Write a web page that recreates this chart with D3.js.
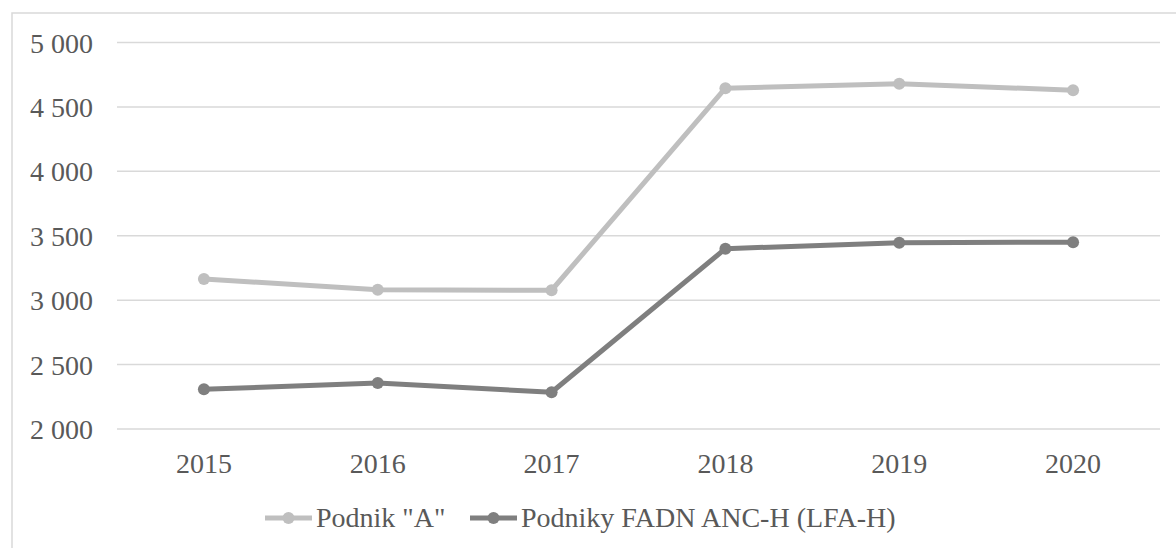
<!DOCTYPE html>
<html>
<head>
<meta charset="utf-8">
<script src="https://cdn.jsdelivr.net/npm/d3@7"></script>
</head>
<body style="margin:0">
<script>
// data
var years = ["2015", "2016", "2017", "2018", "2019", "2020"];
var podnikA = [3165, 3080, 3077, 4645, 4680, 4630];
var podnikyFadn = [2308, 2357, 2285, 3400, 3446, 3450];
var seriesNames = ['Podnik "A"', "Podniky FADN ANC-H (LFA-H)"];
var yTicks = [2000, 2500, 3000, 3500, 4000, 4500, 5000];

var width = 1176, height = 548;
var plot = { left: 117, right: 1160, top: 42.5, bottom: 429 };
var colors = ["#bfbfbf", "#7f7f7f"];
var textColor = "#595959";
var k = 0.875; // text drawn at 32px then scaled to 28px

var svg = d3.select("body").append("svg")
    .attr("width", width)
    .attr("height", height);

// outer chart frame (runs off the right / bottom edge)
svg.append("rect")
    .attr("x", 12).attr("y", 13)
    .attr("width", width + 20).attr("height", height + 20)
    .attr("fill", "none")
    .attr("stroke", "#d9d9d9")
    .attr("stroke-width", 1.5);

var xScale = d3.scaleBand().domain(years).range([plot.left, plot.right]);
var yScale = d3.scaleLinear().domain([2000, 5000]).range([plot.bottom, plot.top]);

var locale = d3.formatLocale({ decimal: ",", thousands: " ", grouping: [3], currency: ["", ""] });
var fmt = locale.format(",");

function label(x, y, anchor, str) {
    svg.append("g")
        .attr("transform", "translate(" + x + "," + y + ") scale(" + k + ")")
        .append("text")
        .attr("text-anchor", anchor)
        .style("font-family", "'Liberation Serif'")
        .style("font-size", "32px")
        .style("fill", textColor)
        .text(str);
}

// gridlines
svg.selectAll(".grid")
    .data(yTicks)
    .enter().append("line")
    .attr("x1", plot.left).attr("x2", plot.right)
    .attr("y1", function (d) { return yScale(d); })
    .attr("y2", function (d) { return yScale(d); })
    .attr("stroke", "#d9d9d9")
    .attr("stroke-width", 1.5);

// y labels
yTicks.forEach(function (d) {
    label(plot.left - 24, yScale(d) + 10, "end", fmt(d));
});

// x labels
years.forEach(function (d) {
    label(xScale(d) + xScale.bandwidth() / 2, plot.bottom + 44, "middle", d);
});

var line = d3.line()
    .x(function (d, i) { return xScale(years[i]) + xScale.bandwidth() / 2; })
    .y(function (d) { return yScale(d); });

[podnikA, podnikyFadn].forEach(function (values, s) {
    svg.append("path")
        .datum(values)
        .attr("d", line)
        .attr("fill", "none")
        .attr("stroke", colors[s])
        .attr("stroke-width", 5)
        .attr("stroke-linejoin", "round");

    svg.selectAll(".dot" + s)
        .data(values)
        .enter().append("circle")
        .attr("cx", function (d, i) { return xScale(years[i]) + xScale.bandwidth() / 2; })
        .attr("cy", function (d) { return yScale(d); })
        .attr("r", 6)
        .attr("fill", colors[s]);
});

// legend
var legendX = [265, 470];
var legendY = 518;
seriesNames.forEach(function (name, s) {
    svg.append("line")
        .attr("x1", legendX[s]).attr("x2", legendX[s] + 47)
        .attr("y1", legendY).attr("y2", legendY)
        .attr("stroke", colors[s])
        .attr("stroke-width", 5);
    svg.append("circle")
        .attr("cx", legendX[s] + 23.5).attr("cy", legendY)
        .attr("r", 6)
        .attr("fill", colors[s]);
    label(legendX[s] + 51, legendY + 9, "start", name);
});
</script>
</body>
</html>
